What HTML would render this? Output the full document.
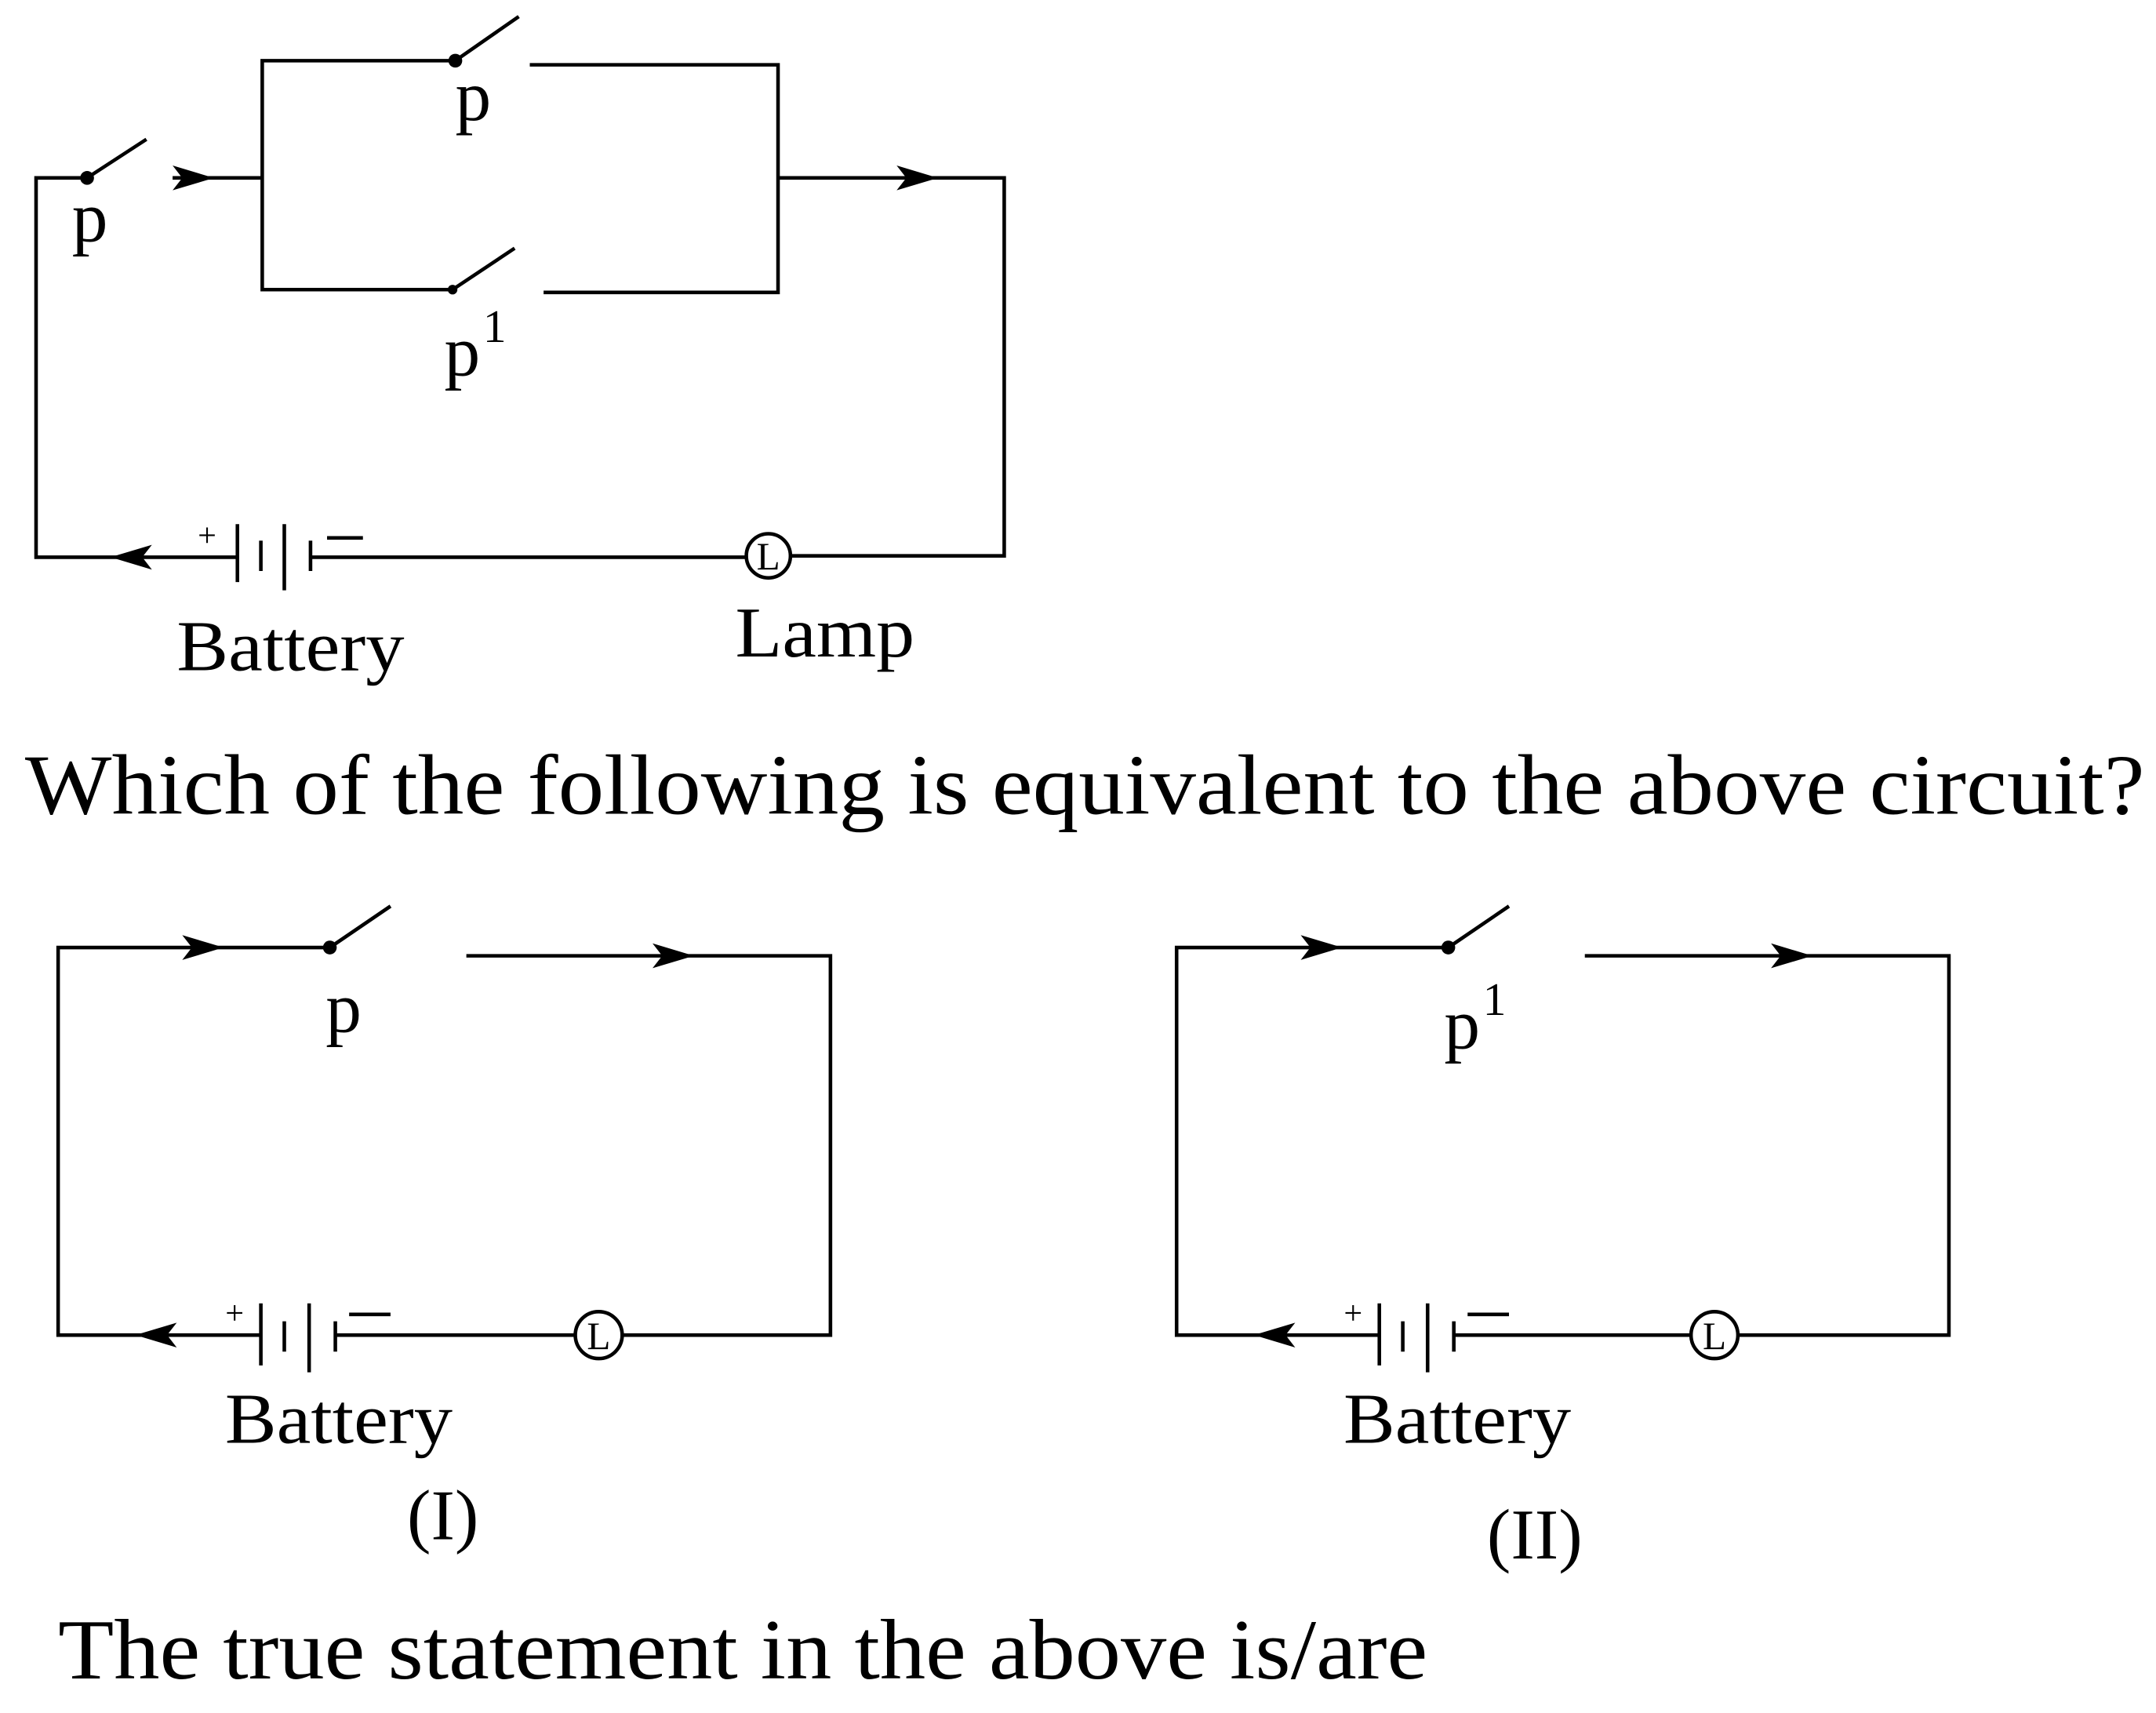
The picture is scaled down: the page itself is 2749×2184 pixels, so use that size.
<!DOCTYPE html>
<html><head><meta charset="utf-8"><style>html,body{margin:0;padding:0;background:#fff}svg{display:block}</style></head>
<body>
<svg width="2749" height="2184" viewBox="0 0 1563 1242" xmlns="http://www.w3.org/2000/svg" font-family="Liberation Serif, serif" fill="#000">
<defs>
<g id="arrR"><path d="M0,0 L-30,-9 L-23,0 L-30,9 Z"/></g>
<g id="arrL"><path d="M0,0 L30,-9 L23,0 L30,9 Z"/></g>
</defs>
<g stroke="#000" stroke-width="2.6" fill="none">
<!-- top circuit -->
<polyline points="63,129 26,129 26,404 172,404"/>
<line x1="63" y1="129" x2="106" y2="101"/>
<line x1="125" y1="129" x2="190" y2="129"/>
<polyline points="330,44 190,44 190,210 328,210"/>
<line x1="330" y1="44" x2="376" y2="12"/>
<line x1="328" y1="210" x2="373" y2="180"/>
<polyline points="384,47 564,47 564,212 394,212"/>
<polyline points="564,129 728,129 728,403 574,403"/>
<line x1="541" y1="404" x2="226" y2="404"/>
<circle cx="557" cy="403" r="16"/>
<line x1="172" y1="380" x2="172" y2="422"/>
<line x1="189" y1="392" x2="189" y2="414"/>
<line x1="206" y1="380" x2="206" y2="428"/>
<line x1="225" y1="392" x2="225" y2="414"/>
<line x1="237" y1="390" x2="263" y2="390"/>
<!-- circuit I -->
<polyline points="239,687 42,687 42,968 189,968"/>
<line x1="239" y1="687" x2="283" y2="657"/>
<polyline points="338,693 602,693 602,968 451,968"/>
<line x1="417" y1="968" x2="243" y2="968"/>
<circle cx="434" cy="968" r="17"/>
<line x1="189" y1="945" x2="189" y2="990"/>
<line x1="206" y1="958" x2="206" y2="980"/>
<line x1="224" y1="945" x2="224" y2="995"/>
<line x1="243" y1="958" x2="243" y2="980"/>
<line x1="253" y1="953" x2="283" y2="953"/>
<!-- circuit II -->
<polyline points="1050,687 853,687 853,968 1000,968"/>
<line x1="1050" y1="687" x2="1094" y2="657"/>
<polyline points="1149,693 1413,693 1413,968 1260,968"/>
<line x1="1226" y1="968" x2="1054" y2="968"/>
<circle cx="1243" cy="968" r="17"/>
<line x1="1000" y1="945" x2="1000" y2="990"/>
<line x1="1017" y1="958" x2="1017" y2="980"/>
<line x1="1035" y1="945" x2="1035" y2="995"/>
<line x1="1054" y1="958" x2="1054" y2="980"/>
<line x1="1064" y1="953" x2="1094" y2="953"/>
</g>
<circle cx="63" cy="129" r="5"/><circle cx="330" cy="44" r="5"/><circle cx="328" cy="210" r="3.5"/>
<circle cx="239" cy="687" r="5"/><circle cx="1050" cy="687" r="5"/>
<use href="#arrR" x="155" y="129"/><use href="#arrR" x="680" y="129"/><use href="#arrL" x="80" y="404"/>
<use href="#arrR" x="162" y="687"/><use href="#arrR" x="503" y="693"/><use href="#arrL" x="98" y="968"/>
<use href="#arrR" x="973" y="687"/><use href="#arrR" x="1314" y="693"/><use href="#arrL" x="909" y="968"/>
<g font-size="52">
<text x="52" y="175">p</text>
<text x="330" y="87">p</text>
<text x="322" y="272">p</text><text x="350" y="248" font-size="34">1</text>
<text x="128" y="486" textLength="165" lengthAdjust="spacingAndGlyphs">Battery</text>
<text x="533" y="476" textLength="130" lengthAdjust="spacingAndGlyphs">Lamp</text>
<text x="236" y="748">p</text>
<text x="1047" y="760">p</text><text x="1075" y="736" font-size="34">1</text>
<text x="163" y="1046" textLength="165" lengthAdjust="spacingAndGlyphs">Battery</text>
<text x="974" y="1046" textLength="165" lengthAdjust="spacingAndGlyphs">Battery</text>
<text x="295" y="1116">(I)</text>
<text x="1078" y="1130">(II)</text>
</g>
<g font-size="24" text-anchor="middle">
<text x="150" y="396">+</text><text x="170" y="960">+</text><text x="981" y="960">+</text>
<text x="557" y="413" font-size="28">L</text>
<text x="434" y="978" font-size="28">L</text>
<text x="1243" y="978" font-size="28">L</text>
</g>
<text x="18" y="590" font-size="62" textLength="1537" lengthAdjust="spacingAndGlyphs">Which of the following is equivalent to the above circuit?</text>
<text x="42" y="1217" font-size="62" textLength="993" lengthAdjust="spacingAndGlyphs">The true statement in the above is/are</text>
</svg>
</body></html>
